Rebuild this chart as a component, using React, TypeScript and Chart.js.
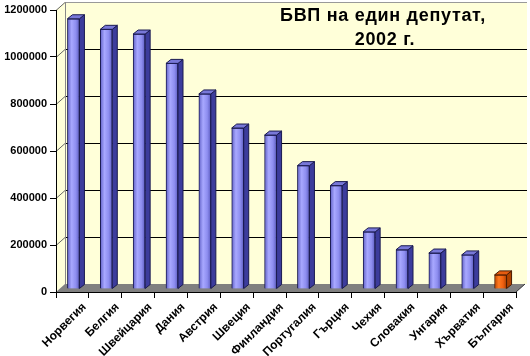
import React, { useEffect, useRef } from 'react';
import { Chart, registerables } from 'chart.js';

Chart.register(...registerables);

const categories = ['Норвегия', 'Белгия', 'Швейцария', 'Дания', 'Австрия', 'Швеция', 'Финландия', 'Португалия', 'Гърция', 'Чехия', 'Словакия', 'Унгария', 'Хърватия', 'България'];
const gdpPerMP = [1150000, 1105000, 1085000, 960000, 830000, 685000, 655000, 525000, 440000, 243000, 167000, 153000, 145000, 60000];
const highlighted = ['България'];
const yMin = 0;
const yMax = 1200000;
const yStep = 200000;
const titleLines = ['БВП на един депутат,', '2002 г.'];

const FONT = '"Liberation Sans", Arial, sans-serif';
const WALL = '#FFFFD9';
const DX = 9, DY = 8; // wall depth
const BX = 1, BY = 3; // bar plane shift
const FX = 5, FY = 4; // bar depth

const isHi = (i: number) => highlighted.includes(categories[i]);

const wallPlugin = {
  id: 'walls',
  beforeDraw(chart: any) {
    const { ctx, chartArea: a, scales } = chart;
    const y = scales.y;
    const right = a.right + DX + 2;
    ctx.save();
    ctx.fillStyle = WALL;
    ctx.beginPath();
    ctx.moveTo(a.left, a.top);
    ctx.lineTo(a.left + DX, a.top - DY);
    ctx.lineTo(a.left + DX, a.bottom - DY);
    ctx.lineTo(a.left, a.bottom);
    ctx.closePath();
    ctx.fill();
    ctx.fillRect(a.left + DX, a.top - DY, right - (a.left + DX), a.bottom - a.top);
    ctx.lineWidth = 1;
    for (let v = yMin + yStep; v <= yMax; v += yStep) {
      const yy = Math.round(y.getPixelForValue(v)) + 0.5;
      ctx.strokeStyle = v === yMax ? '#999' : '#000';
      ctx.beginPath();
      ctx.moveTo(a.left + DX, yy - DY);
      ctx.lineTo(right, yy - DY);
      ctx.stroke();
      ctx.strokeStyle = '#666';
      ctx.beginPath();
      ctx.moveTo(a.left, yy);
      ctx.lineTo(a.left + DX, yy - DY);
      ctx.stroke();
    }
    ctx.strokeStyle = '#888';
    ctx.beginPath();
    ctx.moveTo(a.left + DX + 0.5, a.top - DY);
    ctx.lineTo(a.left + DX + 0.5, a.bottom - DY);
    ctx.stroke();
    ctx.fillStyle = '#808080';
    ctx.beginPath();
    ctx.moveTo(a.left, a.bottom);
    ctx.lineTo(a.right, a.bottom);
    ctx.lineTo(a.right + DX, a.bottom - DY);
    ctx.lineTo(a.left + DX, a.bottom - DY);
    ctx.closePath();
    ctx.fill();
    ctx.strokeStyle = '#333';
    ctx.beginPath();
    ctx.moveTo(a.right, a.bottom);
    ctx.lineTo(a.right + DX, a.bottom - DY);
    ctx.stroke();
    ctx.restore();
  },
};

const barPlugin = {
  id: 'bars3d',
  beforeDatasetsDraw(chart: any) {
    chart.ctx.save();
    chart.ctx.translate(BX, -BY);
  },
  afterDatasetsDraw(chart: any) {
    const ctx = chart.ctx;
    const meta = chart.getDatasetMeta(0);
    meta.data.forEach((bar: any, i: number) => {
      const { x, y, width, base } = bar.getProps(['x', 'y', 'width', 'base'], true);
      const l = x - width / 2;
      const r = x + width / 2;
      const hi = isHi(i);
      ctx.lineWidth = 1;
      ctx.strokeStyle = hi ? '#4a1a00' : '#1a1a50';
      ctx.beginPath();
      ctx.moveTo(r, y);
      ctx.lineTo(r + FX, y - FY);
      ctx.lineTo(r + FX, base - FY);
      ctx.lineTo(r, base);
      ctx.closePath();
      ctx.fillStyle = hi ? '#B04200' : '#3C3C9C';
      ctx.fill();
      ctx.stroke();
      ctx.beginPath();
      ctx.moveTo(l, y);
      ctx.lineTo(l + FX, y - FY);
      ctx.lineTo(r + FX, y - FY);
      ctx.lineTo(r, y);
      ctx.closePath();
      ctx.fillStyle = hi ? '#E65C10' : '#7878D8';
      ctx.fill();
      ctx.stroke();
    });
    ctx.restore();
  },
};

const titlePlugin = {
  id: 'title3d',
  afterDraw(chart: any) {
    const ctx = chart.ctx;
    ctx.save();
    ctx.fillStyle = '#000';
    ctx.font = `bold 18px ${FONT}`;
    try { (ctx as any).letterSpacing = '0.7px'; } catch (e) { /* ignore */ }
    ctx.textAlign = 'center';
    ctx.textBaseline = 'middle';
    ctx.fillText(titleLines[0], 383, 16);
    ctx.fillText(titleLines[1], 385, 40);
    ctx.restore();
  },
};

export default function App() {
  const ref = useRef<HTMLCanvasElement>(null);
  useEffect(() => {
    if (!ref.current) return;
    const chart = new Chart(ref.current, {
      type: 'bar',
      data: {
        labels: categories,
        datasets: [
          {
            data: gdpPerMP,
            barThickness: 12,
            borderWidth: 1,
            borderColor: (c: any) => (isHi(c.dataIndex) ? '#4a1a00' : '#1a1a50'),
            backgroundColor: (c: any) => {
              const hi = isHi(c.dataIndex);
              const xs = c.chart.scales && c.chart.scales.x;
              const cx = xs && c.dataIndex != null ? xs.getPixelForValue(c.dataIndex) : NaN;
              if (!Number.isFinite(cx)) return hi ? '#FF6600' : '#9999FF';
              const g = c.chart.ctx.createLinearGradient(cx - 6, 0, cx + 6, 0);
              if (hi) {
                g.addColorStop(0, '#C04800');
                g.addColorStop(0.35, '#FF7A20');
                g.addColorStop(0.7, '#F06010');
                g.addColorStop(1, '#B04000');
              } else {
                g.addColorStop(0, '#6262C8');
                g.addColorStop(0.35, '#A8A8FF');
                g.addColorStop(0.7, '#8E8EF0');
                g.addColorStop(1, '#5C5CC0');
              }
              return g;
            },
          },
        ],
      },
      options: {
        animation: false,
        responsive: true,
        maintainAspectRatio: false,
        layout: { padding: { top: 10, right: 14, left: 0, bottom: 0 } },
        plugins: { legend: { display: false }, tooltip: { enabled: false }, title: { display: false } },
        scales: {
          x: {
            type: 'category',
            offset: true,
            afterFit: (s: any) => { s.height = 64; },
            grid: { offset: true, drawOnChartArea: false, drawTicks: true, tickLength: 6, color: '#000' },
            border: { display: true, color: '#000' },
            ticks: {
              autoSkip: false,
              minRotation: 45,
              maxRotation: 45,
              padding: 2,
              labelOffset: 12,
              color: '#000',
              font: { family: FONT, size: 12, weight: 'bold' },
            },
          },
          y: {
            min: yMin,
            max: yMax,
            afterFit: (s: any) => { s.width = 56; },
            grid: { drawOnChartArea: false, drawTicks: true, tickLength: 6, color: '#000' },
            border: { display: true, color: '#000' },
            ticks: {
              stepSize: yStep,
              padding: 3,
              color: '#000',
              font: { family: FONT, size: 11, weight: 'bold' },
              callback: (v: any) => String(v),
            },
          },
        },
      },
      plugins: [wallPlugin, barPlugin, titlePlugin],
    } as any);
    return () => chart.destroy();
  }, []);
  return (
    <div style={{ position: 'fixed', left: 0, top: 0, width: 530, height: 356, background: '#fff' }}>
      <canvas ref={ref} />
    </div>
  );
}
